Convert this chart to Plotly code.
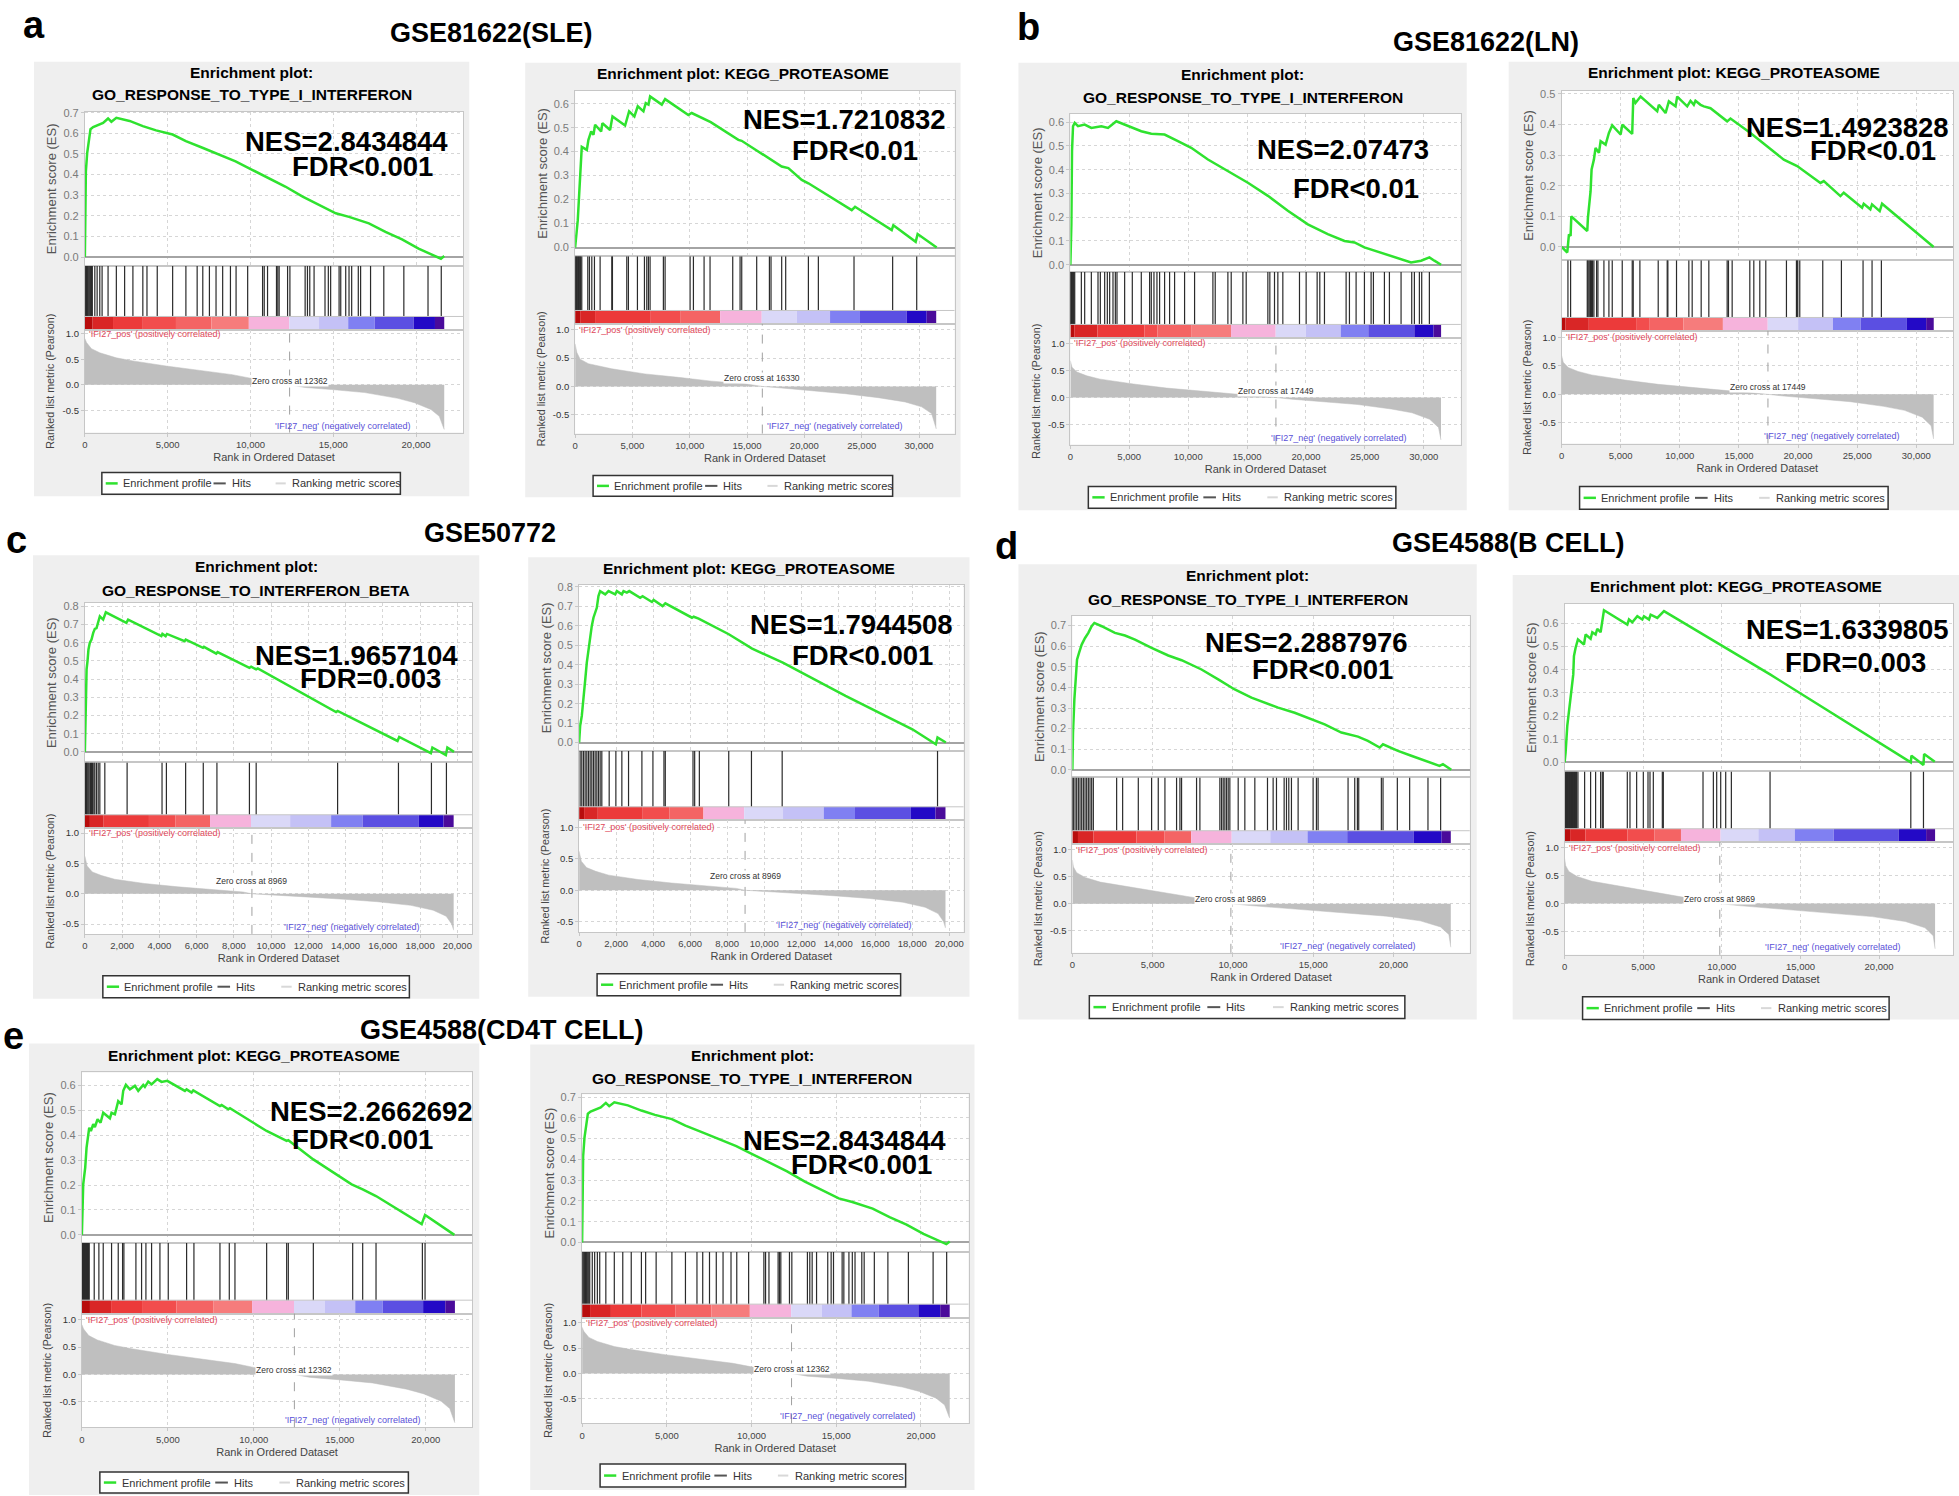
import plotly.graph_objects as go

FIG_W, FIG_H = 1959, 1496
FONT = "Liberation Sans, Arial, Helvetica, sans-serif"

# ======================= DATA =======================
# --- running enrichment score curves (rank, ES) ---
es_aL_x = [0, 60, 140, 340, 500, 1100, 1400, 1600, 1900, 2700, 3500, 4300, 5300, 6100, 7100, 8100, 9100,
           10100, 11100, 12100, 13150, 14150, 15150, 15950, 16550, 17150, 18150, 19150, 20150, 20650, 21150, 21500, 21700]
es_aL_y = [0, 0.415, 0.505, 0.62, 0.63, 0.65, 0.672, 0.656, 0.675, 0.66, 0.635, 0.614, 0.594, 0.562, 0.53, 0.497, 0.464,
           0.423, 0.383, 0.342, 0.293, 0.252, 0.212, 0.195, 0.179, 0.163, 0.122, 0.086, 0.041, 0.024, 0.005, -0.008, 0.005]

es_aR_x = [0, 145, 230, 350, 465, 580, 1020, 1160, 1400, 1600, 1745, 2270, 2380, 3050, 3260, 4360, 4710, 5170, 5465,
           5960, 6160, 6400, 6540, 7560, 7850, 9880, 10170, 11050, 11340, 11830, 14240, 14530, 18020, 18600, 19770,
           20350, 24130, 24420, 27620, 27760, 29710, 29880, 31540]
es_aR_y = [0, 0.059, 0.114, 0.219, 0.33, 0.42, 0.407, 0.449, 0.484, 0.47, 0.512, 0.484, 0.519, 0.49, 0.547, 0.509, 0.568,
           0.547, 0.589, 0.568, 0.602, 0.596, 0.63, 0.596, 0.619, 0.553, 0.561, 0.54, 0.533, 0.523, 0.449, 0.445, 0.338,
           0.331, 0.282, 0.268, 0.156, 0.17, 0.073, 0.093, 0.024, 0.056, 0.0]

es_bL_x = [0, 85, 140, 226, 368, 650, 1215, 1780, 2630, 3195, 3900, 4890, 6020, 6870, 8000, 9130, 10260, 11680, 13370,
           15070, 16770, 18460, 20160, 21850, 23270, 24120, 24960, 26660, 28070, 28920, 29770, 30480, 30900, 31470]
es_bL_y = [0, 0.17, 0.478, 0.583, 0.597, 0.583, 0.59, 0.576, 0.583, 0.576, 0.604, 0.583, 0.562, 0.551, 0.548, 0.52,
           0.492, 0.443, 0.394, 0.345, 0.29, 0.227, 0.17, 0.129, 0.1, 0.094, 0.073, 0.045, 0.024, 0.01, 0.017, 0.031,
           0.017, 0.0]

es_bR_x = [0, 480, 620, 760, 820, 2170, 2225, 2340, 2450, 2535, 2730, 2870, 3155, 3300, 3720, 4000, 4280, 4990, 5130,
           5970, 6060, 6250, 6680, 8085, 8225, 8790, 9070, 9635, 9775, 10620, 10900, 11180, 11320, 11750, 12030, 12590,
           14000, 14280, 15970, 18790, 19630, 19920, 21890, 22170, 23580, 23860, 25410, 25550, 26110, 26250, 26900,
           27100, 31460]
es_bR_y = [0, -0.018, 0.041, 0.036, 0.1, 0.052, 0.095, 0.139, 0.182, 0.253, 0.285, 0.323, 0.307, 0.345, 0.334, 0.372,
           0.397, 0.367, 0.399, 0.369, 0.486, 0.47, 0.491, 0.443, 0.464, 0.437, 0.475, 0.459, 0.491, 0.459, 0.477, 0.464,
           0.477, 0.464, 0.459, 0.453, 0.41, 0.419, 0.372, 0.285, 0.269, 0.264, 0.209, 0.215, 0.166, 0.177, 0.128, 0.141,
           0.123, 0.139, 0.117, 0.141, 0.0]

es_cL_x = [0, 51, 92, 143, 193, 265, 356, 448, 534, 626, 713, 804, 982, 1125, 2229, 2321, 4107, 4163, 4336, 4408, 5354,
           5415, 6342, 6392, 7054, 7125, 8835, 8927, 9197, 9283, 13487, 13569, 16785, 16877, 18577, 18658, 19381, 19462,
           19818]
es_cL_y = [0, 0.343, 0.453, 0.5, 0.563, 0.6, 0.617, 0.654, 0.676, 0.68, 0.718, 0.745, 0.727, 0.767, 0.709, 0.727, 0.636,
           0.648, 0.636, 0.648, 0.608, 0.617, 0.572, 0.577, 0.54, 0.548, 0.462, 0.468, 0.453, 0.458, 0.219, 0.225, 0.06,
           0.082, -0.007, 0.024, -0.018, 0.024, 0.0]

es_cR_x = [0, 55, 145, 235, 325, 415, 505, 595, 685, 775, 865, 955, 1045, 1135, 1410, 1590, 1950, 2040, 2310, 2400,
           2580, 2710, 3300, 3430, 3935, 4025, 4510, 4660, 6100, 6190, 6460, 8090, 9350, 11010, 14400, 18010, 19280,
           19370, 19820]
es_cR_y = [0, 0.086, 0.137, 0.248, 0.317, 0.411, 0.479, 0.522, 0.6, 0.642, 0.668, 0.693, 0.753, 0.779, 0.762, 0.779,
           0.762, 0.779, 0.762, 0.779, 0.771, 0.779, 0.745, 0.753, 0.723, 0.733, 0.702, 0.716, 0.642, 0.647, 0.637,
           0.557, 0.483, 0.411, 0.24, 0.068, -0.009, 0.026, 0.0]

es_dL_x = [0, 40, 125, 210, 290, 415, 580, 790, 995, 1200, 1370, 1825, 2650, 3275, 3900, 4930, 5970, 6800, 8040, 9080,
           10110, 11150, 12190, 12810, 13840, 14880, 15710, 16750, 17780, 18400, 19130, 19340, 20270, 21100, 22140,
           22860, 23070, 23590]
es_dL_y = [0, 0.18, 0.342, 0.471, 0.535, 0.568, 0.608, 0.64, 0.665, 0.697, 0.713, 0.697, 0.665, 0.652, 0.632, 0.592,
           0.555, 0.532, 0.487, 0.439, 0.39, 0.35, 0.318, 0.302, 0.277, 0.245, 0.221, 0.181, 0.161, 0.14, 0.108, 0.124,
           0.092, 0.068, 0.039, 0.019, 0.027, 0.0]

es_dR_x = [0, 64, 170, 233, 318, 382, 467, 551, 594, 700, 848, 1230, 1336, 1654, 1760, 1972, 2078, 2290, 2397, 2503,
           3987, 4093, 4305, 4624, 4942, 5047, 5366, 5472, 5896, 6214, 6320, 13065, 22015, 22057, 22820, 22863, 23542]
es_dR_y = [0, 0.043, 0.158, 0.2, 0.251, 0.294, 0.33, 0.38, 0.459, 0.495, 0.531, 0.509, 0.552, 0.534, 0.562, 0.552,
           0.577, 0.562, 0.617, 0.657, 0.595, 0.617, 0.605, 0.631, 0.617, 0.631, 0.617, 0.638, 0.624, 0.646, 0.653,
           0.38, 0.0, 0.029, -0.011, 0.036, 0.003]

es_eL_x = [0, 40, 78, 136, 194, 272, 368, 427, 524, 660, 757, 912, 1086, 1242, 1630, 1726, 1920, 2017, 2114, 2308,
           2405, 2560, 2793, 3084, 3278, 3569, 3666, 3860, 4054, 4384, 4636, 4966, 5994, 6091, 6382, 6479, 8030, 8127,
           8515, 8613, 9000, 10747, 11911, 12008, 13462, 15693, 16334, 17110, 19767, 19961, 21668]
es_eL_y = [0, 0.096, 0.203, 0.237, 0.27, 0.35, 0.397, 0.43, 0.417, 0.444, 0.433, 0.464, 0.45, 0.49, 0.468, 0.49,
           0.484, 0.511, 0.537, 0.524, 0.578, 0.602, 0.584, 0.598, 0.578, 0.602, 0.594, 0.615, 0.604, 0.625, 0.614,
           0.618, 0.578, 0.584, 0.571, 0.58, 0.517, 0.521, 0.504, 0.508, 0.491, 0.417, 0.377, 0.38, 0.303, 0.203,
           0.183, 0.156, 0.043, 0.08, 0.0]

# --- hit positions (ranks of gene-set members) ---
hits_aL = [0, 50, 100, 150, 200, 250, 300, 350, 400, 450, 600, 740, 900, 1040, 1400, 1900, 2400, 2900, 3500, 3750,
           4370, 5300, 6100, 6780, 7120, 7520, 7920, 8320, 8790, 9130, 9830, 10730, 10830, 11030, 11570, 11650, 11730,
           12240, 12380, 13300, 13440, 13580, 13840, 14500, 14700, 14840, 15350, 15450, 15750, 15950, 16110, 16510,
           16650, 17250, 18050, 19260, 20720, 21520]
hits_aR = [0, 60, 120, 180, 240, 300, 360, 420, 480, 580, 1105, 1250, 1455, 1686, 2180, 3200, 3256, 4506, 4650, 5436,
           6047, 6250, 6395, 6540, 7700, 7850, 10030, 10320, 11250, 11770, 13750, 14390, 14535, 15840, 16950, 17090,
           18020, 18370, 20350, 21220, 24330, 27700, 29800]
hits_bL = [0, 50, 100, 150, 200, 250, 300, 370, 933, 1216, 1781, 2346, 2544, 2912, 3138, 3336, 3619, 3817, 3958, 4608,
           5258, 6021, 6728, 6870, 7096, 7350, 7576, 8000, 8424, 8848, 9696, 10545, 12100, 12297, 13371, 13654, 14644,
           14926, 16764, 16933, 17329, 17612, 18036, 19450, 20015, 20948, 21174, 21570, 23408, 23690, 24256, 24963,
           25528, 25726, 26659, 27083, 28072, 28977, 29203, 29627, 29825, 30475]
hits_bR = [535, 760, 2169, 2225, 2310, 2394, 2451, 2535, 2620, 2732, 2958, 3070, 3578, 4000, 4282, 5127, 5972, 6056,
           6620, 8169, 8930, 8986, 9718, 10760, 11042, 11803, 12450, 14000, 14113, 14423, 15916, 16254, 16761, 17268,
           19014, 19859, 19916, 19972, 20141, 22085, 23662, 25493, 26254, 27042]
hits_cL = [36, 90, 125, 178, 232, 303, 357, 410, 482, 535, 625, 715, 803, 1071, 2268, 4143, 4377, 5410, 6357, 7090,
           8835, 9197, 13569, 16836, 18607, 19412]
hits_cR = [54, 144, 235, 325, 415, 505, 596, 686, 776, 866, 957, 1047, 1137, 1227, 1625, 1986, 2310, 2671, 3393, 3989,
           4585, 4657, 6155, 6245, 6498, 8086, 9314, 10974, 19370]
hits_dL = [0, 62, 166, 269, 373, 477, 580, 684, 788, 891, 995, 1099, 1202, 1306, 2757, 3130, 4105, 4934, 5348, 5763,
           6488, 6696, 6799, 7732, 7940, 9183, 9287, 9390, 9494, 9598, 9702, 9805, 10324, 10738, 11360, 12148, 12500,
           12708, 13185, 13330, 13474, 13640, 14055, 14988, 15195, 15299, 17164, 17579, 17745, 17828, 19237, 19341,
           20232, 20999, 22139, 22927]
hits_dR = [64, 127, 191, 255, 318, 382, 445, 509, 573, 636, 700, 764, 848, 1273, 1654, 1972, 2291, 2397, 2460, 3987,
           4157, 4581, 5006, 5303, 5430, 5642, 6215, 6278, 8802, 9460, 9672, 9927, 10245, 10605, 13065, 22016, 22822]
hits_eL = [0, 39, 97, 155, 213, 272, 330, 388, 427, 718, 989, 1242, 1727, 2115, 2367, 2444, 3143, 3473, 3725, 4055,
           4540, 5025, 6092, 6518, 8032, 8575, 8905, 10748, 11912, 12009, 13464, 15753, 16335, 17111, 19807, 19963]

# --- ranked list metric (rank, Pearson) per dataset ---
rank_sle_go_x = [0, 100, 400, 900, 1900, 2900, 4900, 6900, 8900, 10000, 10900, 12362, 13300, 14900, 16900, 18900,
                 19900, 20900, 21400, 21660, 21700]
rank_sle_go_y = [0.91, 0.83, 0.71, 0.63, 0.53, 0.47, 0.37, 0.29, 0.20, 0.13, 0.08, 0.0, -0.053, -0.093, -0.153, -0.267,
                 -0.353, -0.487, -0.62, -0.85, -0.88]
rank_sle_kegg_x = [0, 145, 440, 1160, 3200, 6100, 9000, 11900, 14800, 16330, 17730, 20640, 23550, 26450, 28780, 30230,
                   31100, 31450, 31500]
rank_sle_kegg_y = [0.75, 0.6, 0.48, 0.4, 0.31, 0.22, 0.16, 0.093, 0.047, 0.0, -0.023, -0.07, -0.128, -0.198, -0.273,
                   -0.36, -0.477, -0.71, -0.75]
rank_ln_x = [0, 140, 560, 1400, 2540, 5360, 8180, 11000, 13830, 16650, 17449, 18800, 21600, 24400, 27230, 29000, 30500,
             31250, 31460]
rank_ln_y = [0.68, 0.56, 0.47, 0.40, 0.34, 0.25, 0.175, 0.125, 0.072, 0.026, 0.0, -0.03, -0.075, -0.128, -0.21, -0.28,
             -0.40, -0.55, -0.78]
rank_c_x = [0, 120, 400, 900, 1600, 3200, 5000, 6800, 8500, 8969, 10300, 12100, 13900, 15700, 17500, 18700, 19400,
            19700, 19800]
rank_c_y = [0.62, 0.46, 0.36, 0.30, 0.24, 0.17, 0.115, 0.075, 0.03, 0.0, -0.02, -0.055, -0.09, -0.13, -0.19, -0.27,
            -0.37, -0.5, -0.6]
rank_d_x = [0, 70, 270, 800, 1740, 3840, 5930, 7610, 9180, 9869, 11070, 13270, 15370, 17460, 19560, 21660, 22920, 23440,
            23560]
rank_d_y = [0.81, 0.68, 0.575, 0.485, 0.40, 0.295, 0.2, 0.11, 0.04, 0.0, -0.036, -0.085, -0.13, -0.173, -0.233, -0.32,
            -0.433, -0.575, -0.81]

# --- colour-bar block edges (13 blocks) per dataset ---
cb_sle_go = [0, 470, 1700, 3500, 5500, 7640, 9900, 12340, 14140, 15900, 17500, 19850, 21140, 21700]
cb_sle_kegg = [0, 440, 1740, 6540, 9160, 12650, 12650, 16280, 19330, 22240, 24850, 28920, 30670, 31500]
cb_ln = [0, 330, 2300, 6300, 7400, 10300, 13640, 17430, 20000, 22950, 25290, 29200, 30830, 31470]
cb_c = [0, 270, 1010, 3440, 4870, 6720, 6720, 8920, 11020, 13220, 14910, 17930, 19260, 19800]
cb_d = [0, 350, 1320, 3990, 5720, 7400, 7400, 9920, 12320, 14640, 17110, 21240, 22990, 23560]
cb_colors = ['#b80d0d', '#d92626', '#ec3a3a', '#f24d4d', '#f46464', '#f67c7c', '#f6b3dc',
             '#dad8f8', '#c4c1f6', '#8080f2', '#5b4fe2', '#2309c6', '#4a0b9b']

# --- text ---
gene_sets = ["GO_RESPONSE_TO_TYPE_I_INTERFERON", "KEGG_PROTEASOME", "GO_RESPONSE_TO_INTERFERON_BETA"]
nes_values = ["2.8434844", "1.7210832", "2.07473", "1.4923828", "1.9657104", "1.7944508", "2.2887976", "1.6339805",
              "2.2662692", "2.8434844"]
fdr_labels = ["FDR<0.001", "FDR<0.01", "FDR<0.01", "FDR<0.01", "FDR=0.003", "FDR<0.001", "FDR<0.001", "FDR=0.003",
              "FDR<0.001", "FDR<0.001"]
zero_cross = [12362, 16330, 17449, 17449, 8969, 8969, 9869, 9869, 12362, 12362]
rank_tick_vals = [-0.5, 0.0, 0.5, 1.0]
rank_tick_text = ["-0.5", "0.0", "0.5", "1.0"]
group_titles = ["GSE81622(SLE)", "GSE81622(LN)", "GSE50772", "GSE4588(B CELL)", "GSE4588(CD4T CELL)"]
panel_letters = ["a", "b", "c", "d", "e"]
legend_labels = ["Enrichment profile", "Hits", "Ranking metric scores"]
pos_label = "'IFI27_pos' (positively correlated)"
neg_label = "'IFI27_neg' (negatively correlated)"

# ======================= PANEL LAYOUT (pixels) =======================
DATA = [
    dict(es=(es_aL_x, es_aL_y), hits=hits_aL, rk=(rank_sle_go_x, rank_sle_go_y), cb=cb_sle_go, gs=0, two=True),
    dict(es=(es_aR_x, es_aR_y), hits=hits_aR, rk=(rank_sle_kegg_x, rank_sle_kegg_y), cb=cb_sle_kegg, gs=1, two=False),
    dict(es=(es_bL_x, es_bL_y), hits=hits_bL, rk=(rank_ln_x, rank_ln_y), cb=cb_ln, gs=0, two=True),
    dict(es=(es_bR_x, es_bR_y), hits=hits_bR, rk=(rank_ln_x, rank_ln_y), cb=cb_ln, gs=1, two=False),
    dict(es=(es_cL_x, es_cL_y), hits=hits_cL, rk=(rank_c_x, rank_c_y), cb=cb_c, gs=2, two=True),
    dict(es=(es_cR_x, es_cR_y), hits=hits_cR, rk=(rank_c_x, rank_c_y), cb=cb_c, gs=1, two=False),
    dict(es=(es_dL_x, es_dL_y), hits=hits_dL, rk=(rank_d_x, rank_d_y), cb=cb_d, gs=0, two=True),
    dict(es=(es_dR_x, es_dR_y), hits=hits_dR, rk=(rank_d_x, rank_d_y), cb=cb_d, gs=1, two=False),
    dict(es=(es_eL_x, es_eL_y), hits=hits_eL, rk=(rank_sle_go_x, rank_sle_go_y), cb=cb_sle_go, gs=1, two=False),
    dict(es=(es_aL_x, es_aL_y), hits=hits_aL, rk=(rank_sle_go_x, rank_sle_go_y), cb=cb_sle_go, gs=0, two=True),
]
GEOM = [
    dict(box=(31, 57, 467, 493), px=(82, 461), rows=(107, 262, 326, 429), ty=(68, 90), xmax=22850, dtick=5000,
         esr=(-0.044, 0.705), rkr=(-0.94, 1.08), nes=(344, 137), fdr=(360, 162), zy=0.08, leg=(99, 398, 469, 491)),
    dict(box=(523, 58, 959, 494), px=(573, 953), rows=(86, 252, 320, 430), ty=(69,), xmax=33100, dtick=5000,
         esr=(-0.036, 0.654), rkr=(-0.83, 1.10), nes=(843, 115), fdr=(853, 146), zy=0.146, leg=(591, 891, 472, 493)),
    dict(box=(1017, 58, 1466, 507), px=(1069, 1460), rows=(109, 268, 334, 441), ty=(70, 93), xmax=33140, dtick=5000,
         esr=(-0.031, 0.636), rkr=(-0.865, 1.10), nes=(1342, 145), fdr=(1355, 184), zy=0.12, leg=(1087, 1395, 483, 505)),
    dict(box=(1508, 57, 1959, 507), px=(1561, 1953), rows=(86, 256, 327, 440), ty=(68,), xmax=33100, dtick=5000,
         esr=(-0.043, 0.51), rkr=(-0.86, 1.11), nes=(1847, 123), fdr=(1873, 146), zy=0.13, leg=(1579, 1888, 483, 506)),
    dict(box=(30, 552, 477, 997), px=(82, 470), rows=(600, 760, 826, 932), ty=(563, 587), xmax=20800, dtick=2000,
         esr=(-0.058, 0.818), rkr=(-0.66, 1.08), nes=(354, 653), fdr=(368, 676), zy=0.21, leg=(100, 407, 974, 996)),
    dict(box=(526, 554, 968, 995), px=(577, 962), rows=(582, 748, 818, 930), ty=(565,), xmax=20775, dtick=2000,
         esr=(-0.041, 0.81), rkr=(-0.66, 1.11), nes=(850, 622), fdr=(861, 653), zy=0.226, leg=(595, 899, 972, 994)),
    dict(box=(1017, 561, 1476, 1018), px=(1071, 1469), rows=(613, 775, 842, 951), ty=(572, 596), xmax=24740,
         dtick=5000, esr=(-0.037, 0.747), rkr=(-0.914, 1.105), nes=(1305, 640), fdr=(1322, 667), zy=0.09,
         leg=(1088, 1404, 994, 1017)),
    dict(box=(1512, 572, 1959, 1018), px=(1564, 1953), rows=(601, 769, 840, 953), ty=(583,), xmax=24700, dtick=5000,
         esr=(-0.039, 0.684), rkr=(-0.917, 1.10), nes=(1847, 627), fdr=(1855, 660), zy=0.09,
         leg=(1582, 1889, 995, 1018)),
    dict(box=(26, 1042, 477, 1495), px=(79, 470), rows=(1071, 1242, 1313, 1427), ty=(1054,), xmax=22710, dtick=5000,
         esr=(-0.032, 0.652), rkr=(-0.96, 1.11), nes=(369, 1110), fdr=(360, 1138), zy=0.08,
         leg=(97, 406, 1472, 1493)),
    dict(box=(528, 1043, 973, 1490), px=(580, 967), rows=(1093, 1251, 1317, 1423), ty=(1054, 1077), xmax=22810,
         dtick=5000, esr=(-0.045, 0.713), rkr=(-0.98, 1.10), nes=(843, 1139), fdr=(860, 1163), zy=0.08,
         leg=(598, 904, 1464, 1487)),
]
GROUP_POS = [(489, 28), (1485, 37), (488, 530), (1508, 540), (500, 1028)]
LETTER_POS = [(31, 20), (1027, 22), (14, 537), (1005, 543), (11, 1034)]

GREEN = '#2fe22f'
GRID = '#d6d6d6'
FRAME = '#c6c6c6'


def fx(x):
    return x / FIG_W


def fy(y):
    return 1 - y / FIG_H


def axn(kind, n):
    return f'{kind}axis' if n == 1 else f'{kind}axis{n}'


def ref(kind, n):
    return kind if n == 1 else f'{kind}{n}'


fig = go.Figure()
layout = dict(width=FIG_W, height=FIG_H, margin=dict(l=0, r=0, t=0, b=0), paper_bgcolor='white',
              plot_bgcolor='rgba(0,0,0,0)', showlegend=False, font=dict(family=FONT, color='#333'))
shapes = []
annos = []

for i, (d, g) in enumerate(zip(DATA, GEOM)):
    ne, nh, nr = 3 * i + 1, 3 * i + 2, 3 * i + 3
    L, T, R, B = g['box']
    x0p, x1p = g['px']
    t_es, t_hit, t_rk, b_rk = g['rows']
    xmax = g['xmax']
    # backgrounds
    shapes.append(dict(type='rect', xref='paper', yref='paper', x0=fx(L), x1=fx(R), y0=fy(B), y1=fy(T),
                       fillcolor='#efefef', line=dict(width=0), layer='below'))
    shapes.append(dict(type='rect', xref='paper', yref='paper', x0=fx(x0p), x1=fx(x1p), y0=fy(b_rk), y1=fy(t_es),
                       fillcolor='white', line=dict(width=0), layer='below'))
    xdom = [fx(x0p), fx(x1p)]
    common_x = dict(domain=xdom, range=[0, xmax], dtick=g['dtick'], tick0=0, zeroline=False, showline=True,
                    mirror=True, linecolor=FRAME, linewidth=1)
    # ES axes
    layout[axn('x', ne)] = dict(common_x, anchor=ref('y', ne), showticklabels=False, ticks='', showgrid=True,
                                gridcolor=GRID, griddash='dot')
    layout[axn('y', ne)] = dict(domain=[fy(t_hit), fy(t_es)], range=list(g['esr']), anchor=ref('x', ne), dtick=0.1,
                                tick0=0, tickformat='.1f', tickfont=dict(size=11, color='#7a7a7a'), ticks='outside',
                                ticklen=3, tickcolor='#c8c8c8', showgrid=True, gridcolor=GRID, griddash='dot',
                                zeroline=True, zerolinecolor='#a4a4a4', zerolinewidth=1.5, showline=True,
                                mirror=True, linecolor=FRAME,
                                title=dict(text='Enrichment score (ES)', font=dict(size=13, color='#555'),
                                           standoff=3))
    # hits axes
    layout[axn('x', nh)] = dict(common_x, anchor=ref('y', nh), showticklabels=False, ticks='', showgrid=False)
    layout[axn('y', nh)] = dict(domain=[fy(t_rk), fy(t_hit)], range=[0, 1], anchor=ref('x', nh),
                                showticklabels=False, ticks='', showgrid=False, zeroline=False, showline=True,
                                mirror=True, linecolor=FRAME)
    # ranked axes
    layout[axn('x', nr)] = dict(common_x, anchor=ref('y', nr), tickformat=',d', ticks='outside', ticklen=3,
                                tickcolor='#c8c8c8', tickfont=dict(size=9.5, color='#444'), showgrid=True,
                                gridcolor=GRID, griddash='dot',
                                title=dict(text='Rank in Ordered Dataset', font=dict(size=11, color='#444'),
                                           standoff=4))
    layout[axn('y', nr)] = dict(domain=[fy(b_rk), fy(t_rk)], range=list(g['rkr']), anchor=ref('x', nr),
                                tickvals=rank_tick_vals, ticktext=rank_tick_text, tickfont=dict(size=9.5, color='#333'),
                                ticks='outside', ticklen=3, tickcolor='#c8c8c8', showgrid=True, gridcolor=GRID,
                                griddash='dot', zeroline=False, showline=True, mirror=True, linecolor=FRAME,
                                title=dict(text='Ranked list metric (Pearson)', font=dict(size=10.7, color='#444'),
                                           standoff=5))

    # ES curve
    fig.add_trace(go.Scatter(x=d['es'][0], y=d['es'][1], mode='lines', line=dict(color=GREEN, width=2.5),
                             xaxis=ref('x', ne), yaxis=ref('y', ne), hoverinfo='skip'))
    # hits + colour bar
    c = 13.5 / (t_rk - t_hit)
    hx, hy = [], []
    for h in d['hits']:
        hx += [h, h, None]
        hy += [c, 1, None]
    fig.add_trace(go.Scatter(x=hx, y=hy, mode='lines', line=dict(color='#2b2b2b', width=1.2),
                             xaxis=ref('x', nh), yaxis=ref('y', nh), hoverinfo='skip'))
    edges = d['cb']
    cen, wid, col = [], [], []
    for k in range(len(edges) - 1):
        w = edges[k + 1] - edges[k]
        if w <= 0:
            continue
        cen.append((edges[k] + edges[k + 1]) / 2)
        wid.append(w)
        col.append(cb_colors[k])
    fig.add_trace(go.Bar(x=cen, y=[c] * len(cen), width=wid, base=0, marker=dict(color=col, line=dict(width=0)),
                         xaxis=ref('x', nh), yaxis=ref('y', nh), hoverinfo='skip'))
    shapes.append(dict(type='line', xref=f"{ref('x', nh)} domain", yref=ref('y', nh), x0=0, x1=1, y0=c, y1=c,
                       line=dict(color=FRAME, width=1)))
    # ranked list metric
    fig.add_trace(go.Scatter(x=d['rk'][0], y=d['rk'][1], mode='lines', fill='tozeroy', fillcolor='#bfbfbf',
                             line=dict(color='#bfbfbf', width=0.5), xaxis=ref('x', nr), yaxis=ref('y', nr),
                             hoverinfo='skip'))
    z = zero_cross[i]
    shapes.append(dict(type='line', xref=ref('x', nr), yref=f"{ref('y', nr)} domain", x0=z, x1=z, y0=0, y1=1,
                       line=dict(color='#a0a0a0', width=1, dash='dash')))
    annos.append(dict(xref=ref('x', nr), yref=ref('y', nr), x=z, y=g['zy'], text=f'Zero cross at {z}',
                      showarrow=False, font=dict(size=8.5, color='#333'), bgcolor='white', borderpad=0))
    annos.append(dict(xref=ref('x', nr), yref=ref('y', nr), x=0, y=1.0, xanchor='left', xshift=2, yanchor='middle',
                      text=pos_label, showarrow=False, font=dict(size=9, color='#e0485a')))
    annos.append(dict(xref=ref('x', nr), yref=f"{ref('y', nr)} domain", x=d['rk'][0][-1] * 0.914, y=0.065,
                      xanchor='right', yanchor='middle', text=neg_label, showarrow=False,
                      font=dict(size=9, color='#5a50d8')))
    # titles
    gs = gene_sets[d['gs']]
    lines = ['Enrichment plot:', gs] if d['two'] else [f'Enrichment plot: {gs}']
    for k, line in enumerate(lines):
        annos.append(dict(xref='paper', yref='paper', x=fx((L + R) / 2), y=fy(g['ty'][k]), text=f'<b>{line}</b>',
                          showarrow=False, xanchor='center', yanchor='middle', font=dict(size=15.5, color='black')))
    # NES / FDR
    annos.append(dict(xref='paper', yref='paper', x=fx(g['nes'][0]), y=fy(g['nes'][1]),
                      text=f'<b>NES={nes_values[i]}</b>', showarrow=False, xanchor='center', yanchor='middle',
                      font=dict(size=27.5, color='black')))
    annos.append(dict(xref='paper', yref='paper', x=fx(g['fdr'][0]), y=fy(g['fdr'][1]),
                      text=f'<b>{fdr_labels[i]}</b>', showarrow=False, xanchor='center', yanchor='middle',
                      font=dict(size=27.5, color='black')))
    # legend box
    lx0, lx1, ly0, ly1 = g['leg']
    lw = lx1 - lx0
    yc = (ly0 + ly1) / 2
    shapes.append(dict(type='rect', xref='paper', yref='paper', x0=fx(lx0), x1=fx(lx1), y0=fy(ly1), y1=fy(ly0),
                       fillcolor='white', line=dict(color='#333', width=1.5)))
    for (a, b, colr, wdt), (tpos, lab) in zip(
            [(0.013, 0.053, GREEN, 2.5), (0.374, 0.415, '#555', 2), (0.582, 0.616, '#d8d8d8', 2)],
            [(0.064, legend_labels[0]), (0.428, legend_labels[1]), (0.63, legend_labels[2])]):
        shapes.append(dict(type='line', xref='paper', yref='paper', x0=fx(lx0 + a * lw), x1=fx(lx0 + b * lw),
                           y0=fy(yc), y1=fy(yc), line=dict(color=colr, width=wdt)))
        annos.append(dict(xref='paper', yref='paper', x=fx(lx0 + tpos * lw), y=fy(yc), xanchor='left',
                          yanchor='middle', text=lab, showarrow=False, font=dict(size=11, color='#333')))

# group titles and panel letters
for t, (gx, gy) in zip(group_titles, GROUP_POS):
    annos.append(dict(xref='paper', yref='paper', x=fx(gx), y=fy(gy), text=f'<b>{t}</b>', showarrow=False,
                      xanchor='center', yanchor='middle', font=dict(size=27, color='black')))
for t, (gx, gy) in zip(panel_letters, LETTER_POS):
    annos.append(dict(xref='paper', yref='paper', x=fx(gx), y=fy(gy), text=f'<b>{t}</b>', showarrow=False,
                      xanchor='center', yanchor='middle', font=dict(size=38, color='black')))

layout['shapes'] = shapes
layout['annotations'] = annos
fig.update_layout(**layout)

fig.write_html("out.html", include_plotlyjs=True, config={'displayModeBar': False},
               post_script="document.body.style.margin='0';document.body.style.overflow='hidden';")
